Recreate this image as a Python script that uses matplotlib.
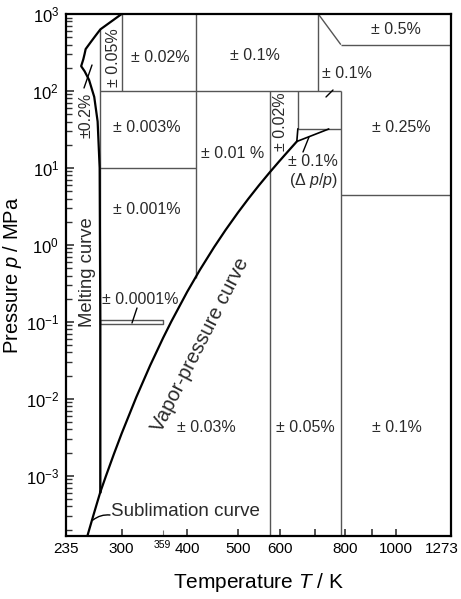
import matplotlib

matplotlib.use("Agg")
import matplotlib.pyplot as plt
from matplotlib.transforms import ScaledTranslation
from matplotlib.ticker import FixedLocator, FixedFormatter, LogLocator, NullFormatter

plt.rcParams["font.family"] = ["Liberation Sans", "DejaVu Sans"]
plt.rcParams["mathtext.fontset"] = "custom"
plt.rcParams["mathtext.rm"] = "Liberation Sans"
plt.rcParams["mathtext.it"] = "Liberation Sans:italic"

# phase-boundary curves, T in K, p in MPa
melt_T = [273.16, 273.15, 272.4, 270.0, 266.0, 260.0, 255.0, 251.165, 253.5, 255.0,
          256.164, 262.0, 268.0, 273.31, 280.0, 290.0, 300.0]
melt_p = [0.000612, 0.1, 10.0, 40.0, 83.7, 139.4, 180.3, 209.9, 256.7, 303.2,
          350.1, 432.0, 531.0, 632.4, 712.0, 846.0, 1000.0]

vap_T = [273.16, 280, 290, 300, 320, 340, 360, 373.15, 400, 423.15, 450, 473.15,
         500, 523.15, 548.15, 573.15, 598.15, 623.15, 633.15, 643.15, 647.1]
vap_p = [0.000612, 0.000992, 0.00192, 0.00354, 0.01055, 0.02718, 0.06219, 0.1013,
         0.2458, 0.4762, 0.9322, 1.555, 2.639, 3.976, 5.95, 8.588, 12.05, 16.53,
         18.67, 21.04, 22.064]

sub_T = [273.16, 270.0, 265.0, 260.0, 258.15]
sub_p = [0.000612, 0.000470, 0.000306, 0.000196, 0.0001655]

# wedge above the critical point
wedge_T = [650, 647.1, 744]
wedge_p = [32, 22.064, 32]

# region boundaries
T_MIN, T_MAX = 235, 1273
P_MIN, P_MAX = 1.65e-4, 1000
T_TRIPLE, P_TRIPLE = 273.16, 0.000612
T_A, T_B, T_C, T_D, T_E, T_F = 300, 415, 576, 650, 711, 785
P_VI = 632.4
P_B_LOW = 0.37  # where T_B meets the vapour-pressure curve
P_100, P_10, P_400, P_32, P_45 = 100, 10, 400, 32, 4.5
atm_T = (273.16, 360)
atm_p = (0.094, 0.105)

segments = [
    ([T_TRIPLE, T_TRIPLE], [P_TRIPLE, P_VI]),
    ([T_A, T_A], [P_100, P_MAX]),
    ([T_B, T_B], [P_B_LOW, P_MAX]),
    ([T_C, T_C], [P_MIN, P_100]),
    ([T_D, T_D], [P_32, P_100]),
    ([T_E, T_E], [P_100, P_MAX]),
    ([T_F, T_F], [P_MIN, P_100]),
    ([T_TRIPLE, T_F], [P_100, P_100]),
    ([T_TRIPLE, T_B], [P_10, P_10]),
    ([T_D, T_F], [P_32, P_32]),
    ([T_E, T_F], [P_MAX, P_400]),
    ([T_F, T_MAX], [P_400, P_400]),
    ([T_F, T_MAX], [P_45, P_45]),
    ([atm_T[0], atm_T[1], atm_T[1], atm_T[0], atm_T[0]],
     [atm_p[0], atm_p[0], atm_p[1], atm_p[1], atm_p[0]]),
]

x_ticks = [235, 300, 400, 500, 600, 700, 800, 900, 1000, 1273]
x_labels = ["235", "300", "400", "500", "600", "", "800", "", "1000", "1273"]
y_ticks = [1e-3, 1e-2, 1e-1, 1, 10, 100, 1000]
y_labels = [r"$10^{-3}$", r"$10^{-2}$", r"$10^{-1}$", r"$10^{0}$", r"$10^{1}$",
            r"$10^{2}$", r"$10^{3}$"]

fig = plt.figure(figsize=(4.61, 5.99), dpi=100)
ax = fig.add_axes([66 / 461, 1 - 536 / 599, 385 / 461, 522 / 599])
ax.set_xscale("log")
ax.set_yscale("log")
ax.set_xlim(T_MIN, T_MAX)
ax.set_ylim(P_MIN, P_MAX)

grey = "#555555"
for xs, ys in segments:
    ax.plot(xs, ys, color=grey, lw=1.0, solid_capstyle="butt")

for T, p in [(melt_T, melt_p), (vap_T, vap_p), (sub_T, sub_p)]:
    ax.plot(T, p, color="black", lw=1.6, solid_joinstyle="round")
ax.plot(wedge_T, wedge_p, color="black", lw=1.2)

# axes cosmetics
for s in ax.spines.values():
    s.set_linewidth(1.6)
ax.xaxis.set_major_locator(FixedLocator(x_ticks))
ax.xaxis.set_major_formatter(FixedFormatter(x_labels))
ax.xaxis.set_minor_locator(FixedLocator([359]))
ax.xaxis.set_minor_formatter(FixedFormatter(["359"]))
ax.yaxis.set_major_locator(FixedLocator(y_ticks))
ax.yaxis.set_major_formatter(FixedFormatter(y_labels))
ax.yaxis.set_minor_locator(LogLocator(base=10, subs=range(2, 10), numticks=20))
ax.yaxis.set_minor_formatter(NullFormatter())
ax.tick_params(axis="both", which="major", direction="in", width=1.2,
               length=5, color="#333333")
ax.tick_params(axis="x", which="major", pad=4, labelsize=11)
ax.tick_params(axis="y", which="major", pad=5, length=6, labelsize=12)
ax.tick_params(axis="y", which="minor", direction="in", length=4, width=1.0, color="#333333")
ax.tick_params(axis="x", which="minor", direction="in", length=4, width=0.8,
               labelsize=7.5, pad=3, color="#777777")

# keep the last tick label inside the figure
fig.canvas.draw()
last = ax.get_xticklabels()[-1]
last.set_transform(last.get_transform() + ScaledTranslation(-9 / 100, 0, fig.dpi_scale_trans))

ax.set_xlabel("Temperature $T$ / K", fontsize=15)
ax.set_ylabel("Pressure $p$ / MPa", fontsize=14.5)
ax.xaxis.set_label_coords(0.5, (536 - 571) / 522)
ax.yaxis.set_label_coords((24 - 66) / 385, 0.5)


def px(x, y):
    return ((x - 66) / 385, (536 - y) / 522)


fs = 11.5
labels = [
    ("±0.2%", 86, 115, 90),
    ("± 0.05%", 113, 58, 90),
    ("± 0.02%", 160, 57, 0),
    ("± 0.1%", 255, 56, 0),
    ("± 0.5%", 396, 30, 0),
    ("± 0.1%", 347, 73, 0),
    ("± 0.25%", 401, 128, 0),
    ("± 0.003%", 147, 128, 0),
    ("± 0.01 %", 233, 153, 0),
    ("± 0.02%", 280, 122, 90),
    ("± 0.1%", 313, 162, 0),
    ("(Δ $p$/$p$)", 314, 180, 0),
    ("± 0.001%", 147, 210, 0),
    ("± 0.0001%", 140, 300, 0),
    ("± 0.03%", 206, 428, 0),
    ("± 0.05%", 305, 428, 0),
    ("± 0.1%", 397, 428, 0),
]
for txt, x, y, rot in labels:
    ax.text(*px(x, y), txt, transform=ax.transAxes, ha="center", va="center",
            fontsize=fs, rotation=rot, color="#2a2a2a")

ax.text(*px(87, 272), "Melting curve", transform=ax.transAxes, ha="center",
        va="center", rotation=90, fontsize=13.3, color="#2a2a2a")
ax.text(*px(200, 345), "Vapor-pressure curve", transform=ax.transAxes, ha="center",
        va="center", rotation=63, fontsize=14.5, color="#2a2a2a")
ax.text(*px(111, 512), "Sublimation curve", transform=ax.transAxes, ha="left",
        va="center", fontsize=13.5, color="#2a2a2a")

leaders = [
    ((84, 88), (92, 65), None),
    ((326, 97), (333, 90), None),
    ((132, 323), (137, 308), None),
    ((303, 152), (309, 137), None),
    ((93, 520), (110, 515), "arc3,rad=-0.2"),
]
for a, b, cs in leaders:
    props = dict(arrowstyle="-", lw=1.0, color="black", shrinkA=0, shrinkB=0)
    if cs:
        props["connectionstyle"] = cs
    ax.annotate("", xy=px(*b), xytext=px(*a), xycoords="axes fraction",
                textcoords="axes fraction", arrowprops=props)

fig.savefig("out.png", dpi=100)
